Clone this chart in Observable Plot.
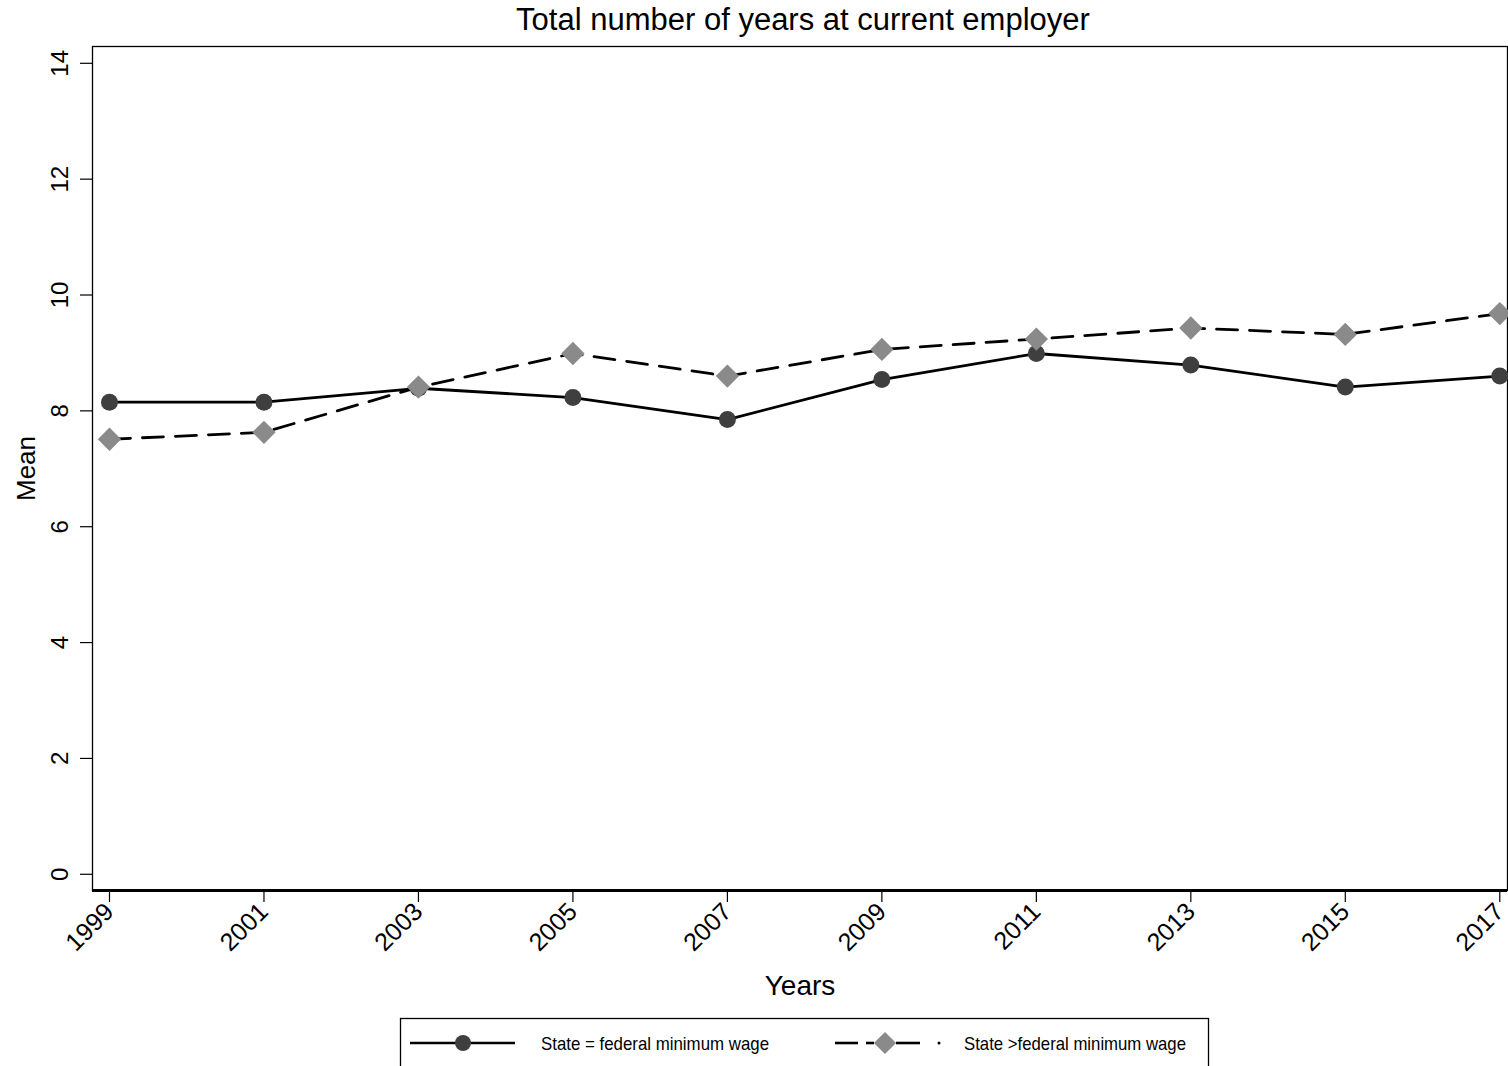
<!DOCTYPE html>
<html><head><meta charset="utf-8">
<script src="https://cdn.jsdelivr.net/npm/d3@7"></script>
<script src="https://cdn.jsdelivr.net/npm/@observablehq/plot@0.6"></script>
<style>
body{margin:0;background:#fff;font-family:"Liberation Sans",Arial,sans-serif;overflow:hidden;}
#title{height:40px;padding-left:98px;text-align:center;font-size:31px;line-height:40px;color:#000;}
#chart svg{display:block;}
#legend svg{display:block;}
</style></head><body>
<div id="title">Total number of years at current employer</div>
<div id="chart"></div>
<div id="legend"></div>
<script>
const years = [1999, 2001, 2003, 2005, 2007, 2009, 2011, 2013, 2015, 2017];
const stateEqualFederal = [8.15, 8.15, 8.39, 8.23, 7.85, 8.54, 8.99, 8.79, 8.41, 8.60];
const stateAboveFederal = [7.51, 7.63, 8.41, 8.99, 8.60, 9.06, 9.24, 9.43, 9.32, 9.68];
const yTicks = [0, 2, 4, 6, 8, 10, 12, 14];
const seriesNames = ["State = federal minimum wage", "State >federal minimum wage"];

const eq = years.map((yr, i) => ({year: yr, value: stateEqualFederal[i], series: seriesNames[0]}));
const above = years.map((yr, i) => ({year: yr, value: stateAboveFederal[i], series: seriesNames[1]}));

const yMin = -0.28, yMax = 14.29;
const chart = Plot.plot({
  width: 1508, height: 965,
  marginTop: 6, marginBottom: 115, marginLeft: 92, marginRight: 1,
  style: {fontFamily: "'Liberation Sans', Arial, sans-serif", background: "#fff", color: "#000"},
  x: {domain: [1998.78, 2017.1]},
  y: {domain: [yMin, yMax]},
  marks: [
    Plot.frame({stroke: "#000", strokeWidth: 1.3}),
    Plot.ruleY([yMin], {stroke: "#000", strokeWidth: 3}),
    Plot.axisY(yTicks, {tickSize: 12, tickFormat: () => "", label: null, strokeWidth: 1.2}),
    Plot.text(yTicks, {y: d => d, frameAnchor: "left", dx: -32, rotate: -90, text: d => String(d), fontSize: 24, textAnchor: "middle", lineAnchor: "middle"}),
    Plot.axisX(years, {tickSize: 12, tickRotate: -45, tickFormat: d => String(d), fontSize: 25, label: null, strokeWidth: 1.2, tickPadding: 5}),
    Plot.text(["Years"], {frameAnchor: "bottom", dy: 96, fontSize: 28, lineAnchor: "middle", textAnchor: "middle", text: d => d}),
    Plot.text(["Mean"], {frameAnchor: "left", dx: -66, rotate: -90, fontSize: 26, textAnchor: "middle", lineAnchor: "middle", text: d => d}),
    Plot.line(above, {x: "year", y: "value", stroke: "#000", strokeWidth: 2.8, strokeDasharray: "21,12"}),
    Plot.line(eq, {x: "year", y: "value", stroke: "#000", strokeWidth: 2.8}),
    Plot.dot(eq, {x: "year", y: "value", r: 8.5, fill: "#3f3f3f", symbol: "circle"}),
    Plot.dot(above, {x: "year", y: "value", r: 10.5, fill: "#8a8a8a", symbol: "diamond2"})
  ]
});
document.getElementById("chart").appendChild(chart);

// Legend
const lg = d3.select("#legend").append("svg").attr("width", 1508).attr("height", 61);
lg.append("rect").attr("x", 400.5).attr("y", 13.5).attr("width", 808).attr("height", 70)
  .attr("fill", "#fff").attr("stroke", "#000").attr("stroke-width", 1.3);
const ly = 38;
lg.append("line").attr("x1", 410).attr("x2", 515).attr("y1", ly).attr("y2", ly).attr("stroke", "#000").attr("stroke-width", 2.6);
lg.append("circle").attr("cx", 463).attr("cy", ly).attr("r", 8).attr("fill", "#3f3f3f");
lg.append("text").attr("x", 541).attr("y", ly + 7).attr("font-size", 19)
  .attr("font-family", "'Liberation Sans Narrow','Liberation Sans',Arial,sans-serif")
  .attr("textLength", 228).attr("lengthAdjust", "spacingAndGlyphs").text(seriesNames[0]);
[[835, 858], [866, 874], [896, 920]].forEach(([a, b]) =>
  lg.append("line").attr("x1", a).attr("x2", b).attr("y1", ly).attr("y2", ly).attr("stroke", "#000").attr("stroke-width", 2.6));
lg.append("circle").attr("cx", 939).attr("cy", ly).attr("r", 1.5).attr("fill", "#000");
lg.append("path").attr("d", d3.symbol(d3.symbolDiamond2, Math.PI * 10 * 10)())
  .attr("transform", `translate(885,${ly})`).attr("fill", "#8a8a8a");
lg.append("text").attr("x", 964).attr("y", ly + 7).attr("font-size", 19)
  .attr("font-family", "'Liberation Sans Narrow','Liberation Sans',Arial,sans-serif")
  .attr("textLength", 222).attr("lengthAdjust", "spacingAndGlyphs").text(seriesNames[1]);
</script>
</body></html>
